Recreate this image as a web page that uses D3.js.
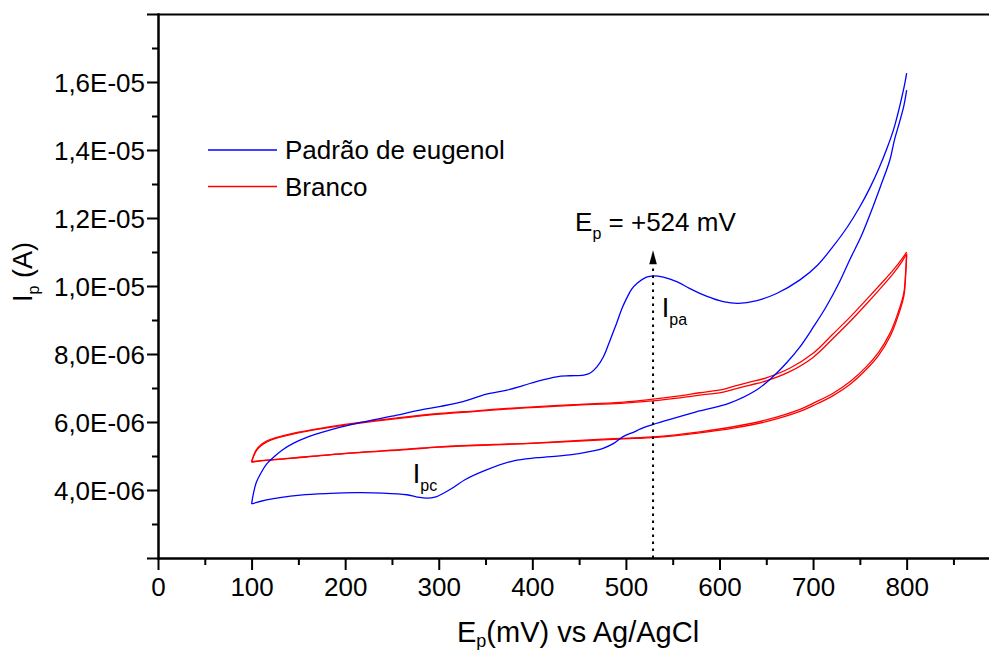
<!DOCTYPE html>
<html>
<head>
<meta charset="utf-8">
<script src="https://cdn.jsdelivr.net/npm/d3@7"></script>
<style>
  body { margin: 0; background: #fff; }
  svg text { font-family: 'Liberation Sans', Arial, sans-serif; fill: #000; }
</style>
</head>
<body>
<div class="canvas"></div>
<script>
// potential (mV) / current (in units of 1e-6 A)
const blueForward = [
  [100, 3.59], [102, 3.9], [105, 4.22], [110, 4.5], [116, 4.76], [125, 5.0], [134, 5.2],
  [145, 5.38], [159, 5.55], [176, 5.7], [194, 5.84], [212, 5.96], [230, 6.06], [250, 6.17],
  [280, 6.35], [302, 6.46], [326, 6.6], [351, 6.82], [373, 6.94], [390, 7.07], [408, 7.22],
  [426, 7.33], [440, 7.36], [455, 7.38], [462, 7.44], [469, 7.62], [476, 7.92], [483, 8.4],
  [490, 8.9], [496, 9.35], [501, 9.65], [506, 9.9], [512, 10.08], [522, 10.26], [529, 10.3],
  [540, 10.26], [555, 10.12], [568, 9.93], [586, 9.7], [604, 9.54], [620, 9.49], [640, 9.57],
  [661, 9.78], [686, 10.18], [705, 10.62], [721, 11.15], [737, 11.75], [750, 12.33],
  [761, 12.9], [771, 13.5], [779, 14.05], [786, 14.6], [790, 15.0], [794, 15.45],
  [798, 15.95], [800, 16.26],
];
const blueReverse = [
  [800, 15.76], [797, 15.3], [793, 14.88], [787, 14.3], [782, 13.7], [773, 13.0], [764, 12.33],
  [752, 11.5], [739, 10.76], [727, 10.05], [714, 9.39], [700, 8.78], [686, 8.21], [672, 7.75],
  [657, 7.33], [640, 6.95], [610, 6.55], [575, 6.3], [545, 6.06], [526, 5.9], [515, 5.79],
  [509, 5.71], [497, 5.57], [487, 5.37], [475, 5.22], [465, 5.15], [440, 5.03], [405, 4.95],
  [380, 4.86], [351, 4.59], [328, 4.3], [316, 4.08], [306, 3.92], [297, 3.8], [287, 3.76],
  [276, 3.8], [266, 3.86], [240, 3.91], [212, 3.92], [184, 3.9], [152, 3.85], [116, 3.71],
  [100, 3.59],
];
const redForward1 = [
  [100, 4.83], [102, 5.0], [105, 5.18], [110, 5.33], [116, 5.44], [125, 5.53], [134, 5.6],
  [150, 5.7], [170, 5.8], [200, 5.93], [230, 6.04], [265, 6.15], [301, 6.25], [340, 6.33],
  [373, 6.4], [410, 6.46], [444, 6.51], [494, 6.58], [515, 6.63], [529, 6.67], [555, 6.76],
  [579, 6.86], [604, 6.96], [615, 7.05], [632, 7.17], [650, 7.3], [675, 7.58], [700, 8.02],
  [721, 8.58], [740, 9.1], [757, 9.6], [772, 10.05], [786, 10.48], [795, 10.8], [800, 11.0],
];
const redReverse1 = [
  [800, 10.95], [799, 10.45], [797, 9.8], [790, 9.15], [782, 8.6], [770, 8.05], [757, 7.63],
  [740, 7.2], [721, 6.84], [700, 6.55], [686, 6.37], [650, 6.06], [615, 5.86], [579, 5.71],
  [533, 5.57], [494, 5.52], [460, 5.47], [400, 5.38], [360, 5.34], [300, 5.27], [266, 5.2],
  [200, 5.08], [159, 4.98], [116, 4.88], [100, 4.83],
];
const redForward2 = [
  [100, 4.82], [102, 4.98], [105, 5.15], [110, 5.3], [116, 5.41], [125, 5.51], [134, 5.58],
  [150, 5.68], [170, 5.78], [200, 5.91], [230, 6.02], [265, 6.13], [301, 6.23], [340, 6.31],
  [373, 6.38], [410, 6.44], [444, 6.49], [494, 6.55], [515, 6.59], [529, 6.62], [555, 6.7],
  [579, 6.79], [604, 6.88], [615, 6.96], [632, 7.08], [650, 7.21], [675, 7.48], [700, 7.9],
  [721, 8.45], [740, 8.97], [757, 9.47], [772, 9.93], [786, 10.38], [795, 10.72], [800, 10.95],
];
const redReverse2 = [
  [800, 10.9], [799, 10.35], [797, 9.7], [790, 9.05], [782, 8.5], [770, 7.96], [757, 7.55],
  [740, 7.12], [721, 6.77], [700, 6.48], [686, 6.31], [650, 6.01], [615, 5.82], [579, 5.68],
  [533, 5.55], [494, 5.5], [460, 5.45], [400, 5.37], [360, 5.33], [300, 5.26], [266, 5.19],
  [200, 5.07], [159, 4.97], [116, 4.87], [100, 4.82],
];

const seriesNames = ['Padrão de eugenol', 'Branco'];
const seriesColours = ['#0000ff', '#ff0000'];

const xMajorTicks = [0, 100, 200, 300, 400, 500, 600, 700, 800];
const xMinorTicks = [50, 150, 250, 350, 450, 550, 650, 750, 850];
const yMajorTicks = [2e-6, 4e-6, 6e-6, 8e-6, 1e-5, 1.2e-5, 1.4e-5, 1.6e-5, 1.8e-5];
const yLabelledTicks = [4e-6, 6e-6, 8e-6, 1e-5, 1.2e-5, 1.4e-5, 1.6e-5];
const yMinorTicks = [3e-6, 5e-6, 7e-6, 9e-6, 1.1e-5, 1.3e-5, 1.5e-5, 1.7e-5];

// peak annotation
const peakPotential = 529;   // where the dotted arrow stands
const peakArrowTop = 11.05;  // 1e-6 A
const peakLabel = '+524 mV';

const dimensions = { width: 989, height: 650, left: 158, right: 989, top: 14, bottom: 558 };

const svg = d3
  .select('.canvas')
  .append('svg')
  .attr('width', dimensions.width)
  .attr('height', dimensions.height);

const x = d3.scaleLinear().domain([0, 888]).range([dimensions.left, dimensions.right]);
const y = d3.scaleLinear().domain([2e-6, 1.8e-5]).range([dimensions.bottom, dimensions.top]);
const micro = (v) => v * 1e-6;

// "1,6E-05" style labels
const formatTick = (v) => {
  if (!yLabelledTicks.some((t) => Math.abs(t - v) < 1e-12)) return '';
  const exp = Math.floor(Math.log10(v));
  const mant = (v / Math.pow(10, exp)).toFixed(1).replace('.', ',');
  return `${mant}E-${String(-exp).padStart(2, '0')}`;
};

const styleAxis = (g) => {
  g.selectAll('path, line').attr('stroke', '#000').attr('stroke-width', 2);
  g.selectAll('text').attr('font-size', 26).attr('fill', '#000');
  g.attr('font-family', null);
};

// x axis
svg
  .append('g')
  .attr('transform', `translate(0, ${dimensions.bottom})`)
  .call(d3.axisBottom(x).tickValues(xMajorTicks).tickSize(12).tickSizeOuter(0).tickPadding(8))
  .call(styleAxis);
svg
  .append('g')
  .attr('transform', `translate(0, ${dimensions.bottom})`)
  .call(d3.axisBottom(x).tickValues(xMinorTicks).tickSize(7).tickSizeOuter(0).tickFormat(''))
  .call(styleAxis);

// y axis
svg
  .append('g')
  .attr('transform', `translate(${dimensions.left}, 0)`)
  .call(d3.axisLeft(y).tickValues(yMajorTicks).tickSize(11).tickSizeOuter(0).tickPadding(2).tickFormat(formatTick))
  .call(styleAxis)
  .call((g) => g.selectAll('text').attr('dy', '0.36em'));
svg
  .append('g')
  .attr('transform', `translate(${dimensions.left}, 0)`)
  .call(d3.axisLeft(y).tickValues(yMinorTicks).tickSize(6).tickSizeOuter(0).tickFormat(''))
  .call(styleAxis);

// top frame line
svg
  .append('g')
  .attr('transform', `translate(0, ${dimensions.top})`)
  .call(d3.axisTop(x).tickValues([]).tickSizeOuter(0))
  .call(styleAxis);

svg.selectAll('.domain').attr('stroke-linecap', 'square');

// curves
const line = d3
  .line()
  .x((d) => x(d[0]))
  .y((d) => y(micro(d[1])))
  .curve(d3.curveCatmullRom.alpha(0.5));

const traces = [
  { data: redForward1, colour: seriesColours[1] },
  { data: redReverse1, colour: seriesColours[1] },
  { data: redForward2, colour: seriesColours[1] },
  { data: redReverse2, colour: seriesColours[1] },
  { data: blueForward, colour: seriesColours[0] },
  { data: blueReverse, colour: seriesColours[0] },
];

svg
  .append('g')
  .selectAll('path')
  .data(traces)
  .enter()
  .append('path')
  .attr('fill', 'none')
  .attr('stroke', (d) => d.colour)
  .attr('stroke-width', 1.3)
  .attr('stroke-linejoin', 'round')
  .attr('d', (d) => line(d.data));

// dotted arrow at the anodic peak
const arrowX = x(peakPotential);
const tipY = y(micro(peakArrowTop));
svg
  .append('line')
  .attr('x1', arrowX)
  .attr('x2', arrowX)
  .attr('y1', dimensions.bottom)
  .attr('y2', tipY + 12)
  .attr('stroke', '#000')
  .attr('stroke-width', 2)
  .attr('stroke-dasharray', '2.5,4.5');
svg
  .append('path')
  .attr('d', `M${arrowX},${tipY} L${arrowX - 3.8},${tipY + 14} L${arrowX + 3.8},${tipY + 14} Z`)
  .attr('fill', '#000');

// text with a subscript
const subText = (g, main, sub, rest, size, subSize, shift) => {
  const t = g.append('text').attr('font-size', size);
  t.append('tspan').text(main);
  t.append('tspan').attr('font-size', subSize).attr('dy', shift).text(sub);
  if (rest) t.append('tspan').attr('dy', -shift).text(rest);
  return t;
};

subText(svg, 'E', 'p', ` = ${peakLabel}`, 26, 16, 8)
  .attr('x', x(445.7))
  .attr('y', y(micro(11.62)));

subText(svg, 'I', 'pa', null, 27, 16, 8)
  .attr('x', x(538.4))
  .attr('y', y(micro(9.1)));

subText(svg, 'I', 'pc', null, 27, 16, 8)
  .attr('x', x(272.3))
  .attr('y', y(micro(4.2)));

// axis titles
subText(svg, 'E', 'p', '(mV) vs Ag/AgCl', 29, 18, 5)
  .attr('x', 457)
  .attr('y', 642);

subText(svg, 'I', 'p', ' (A)', 27, 16, 7)
  .attr('transform', 'translate(32, 302) rotate(-90)');

// legend
const legendGroup = svg.append('g').attr('transform', 'translate(208, 150)');
const legendItems = legendGroup
  .selectAll('g')
  .data(seriesNames)
  .enter()
  .append('g')
  .attr('transform', (d, i) => `translate(0, ${i * 36.5})`);
legendItems
  .append('line')
  .attr('x1', 0)
  .attr('x2', 69)
  .attr('stroke', (d, i) => seriesColours[i])
  .attr('stroke-width', 1.3);
legendItems
  .append('text')
  .attr('x', 77)
  .attr('y', 9)
  .attr('font-size', 26)
  .text((d) => d);
</script>
</body>
</html>
